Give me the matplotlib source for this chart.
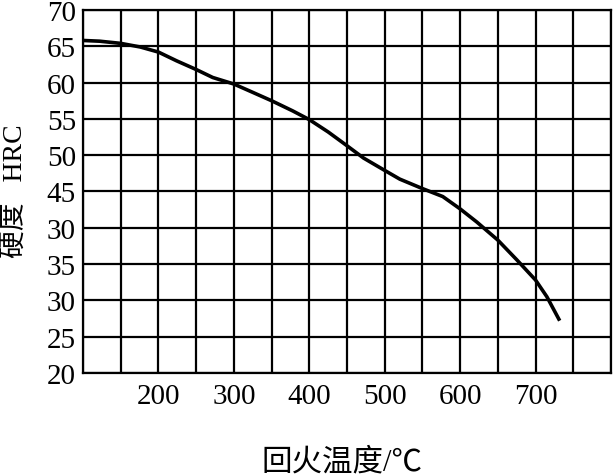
import matplotlib
matplotlib.use("Agg")
import matplotlib.pyplot as plt

# tempering temperature (°C) vs hardness (HRC)
temp = [100, 122, 150, 176, 200, 224, 250, 272, 300, 324, 350, 378, 400, 425, 450,
        472, 500, 520, 550, 577, 600, 622, 650, 675, 700, 715, 732]
hrc = [65.8, 65.7, 65.4, 64.9, 64.2, 63.0, 61.8, 60.7, 59.8, 58.7, 57.5, 56.1, 54.9,
       53.2, 51.3, 49.6, 47.9, 46.7, 45.4, 44.3, 42.6, 40.8, 38.3, 35.6, 32.8, 30.5, 27.2]

x_ticks = [200, 300, 400, 500, 600, 700]
y_ticks = [20, 25, 30, 35, 40, 45, 50, 55, 60, 65, 70]
# the source labels 40 as "30" - kept as printed
y_labels = ["20", "25", "30", "35", "30", "45", "50", "55", "60", "65", "70"]

fonts = ["Liberation Serif", "Noto Sans CJK SC"]
plt.rcParams["font.family"] = fonts

fig = plt.figure(figsize=(6.13, 4.77), dpi=100)
ax = fig.add_axes([0.1354, 0.216, 0.8613, 0.761])

ax.plot(temp, hrc, color="black", lw=2.6, solid_capstyle="butt", solid_joinstyle="round")

ax.set_xlim(100, 800)
ax.set_ylim(20, 70)
grid_x = list(range(100, 801, 50))
ax.set_xticks(grid_x)
ax.set_xticklabels([str(v) if v in x_ticks else "" for v in grid_x])
ax.set_yticks(y_ticks)
ax.set_yticklabels(y_labels)
ax.grid(True, color="black", lw=1.6)
ax.tick_params(length=0, labelsize=21)
ax.tick_params(axis="y", pad=5)
ax.tick_params(axis="x", pad=7)
for s in ax.spines.values():
    s.set_linewidth(1.6)

fig.text(0.025, 0.60, "硬度   HRC", rotation=90, ha="center", va="center", fontsize=20)
fig.text(0.558, 0.03, "回火温度/℃", ha="center", va="center", fontsize=22)

fig.savefig("out.png", dpi=100)
